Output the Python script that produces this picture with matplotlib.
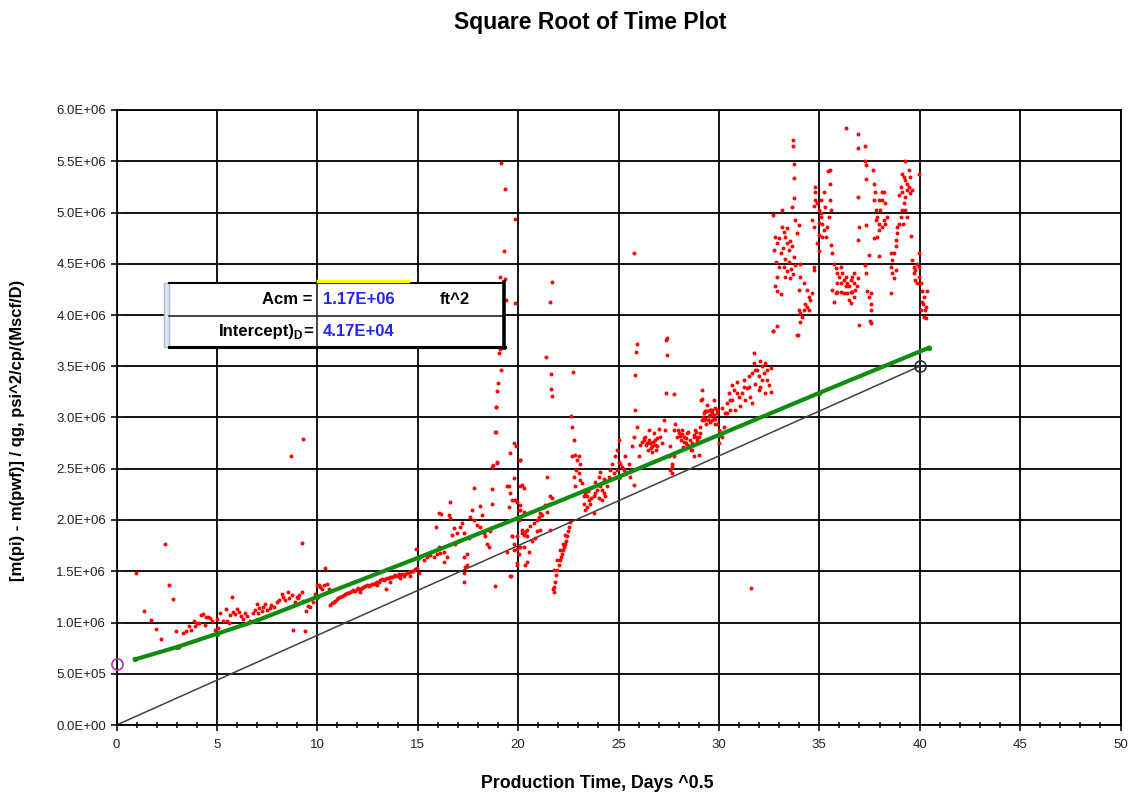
import matplotlib
matplotlib.use("Agg")
import matplotlib.pyplot as plt
import numpy as np
from matplotlib.patches import Rectangle
from matplotlib.lines import Line2D
from matplotlib.ticker import MultipleLocator, FuncFormatter

plt.rcParams['font.family'] = ['Liberation Sans', 'DejaVu Sans']

# measured points, y in units of 1e6 psi^2/cp/(Mscf/D)
early_pts = [
    (0.97, 1.48), (1.39, 1.11), (1.70, 1.02), (1.97, 0.94), (2.22, 0.84), (2.43, 1.77), (2.63, 1.37),
    (2.80, 1.23), (2.97, 0.92), (3.13, 0.76), (3.30, 0.90), (3.46, 0.92), (3.60, 0.97), (3.71, 0.93),
    (3.86, 1.01), (4.00, 1.00), (4.13, 1.00), (4.19, 1.07), (4.33, 1.08), (4.46, 1.05), (4.58, 1.05),
    (4.66, 1.04), (4.74, 1.01), (4.93, 0.93), (5.04, 0.95), (5.17, 1.09), (5.32, 1.01), (5.49, 1.01),
    (5.59, 1.00), (5.47, 1.13), (5.74, 1.25), (5.66, 1.07), (5.82, 1.10), (5.91, 1.08), (6.00, 1.13),
    (6.19, 1.06), (6.32, 1.03), (6.49, 1.06), (6.65, 1.01), (6.82, 1.09), (6.99, 1.18), (7.07, 1.09),
    (7.23, 1.11), (7.40, 1.18), (7.48, 1.12), (7.65, 1.14), (7.82, 1.15), (7.98, 1.20), (8.23, 1.28),
    (8.31, 1.25), (8.40, 1.22), (8.56, 1.30), (8.73, 1.27), (8.90, 1.20), (8.98, 1.25), (9.06, 1.24),
    (9.23, 1.30), (9.31, 1.21), (9.44, 1.11), (9.54, 1.16), (9.64, 1.15), (9.81, 1.20), (9.89, 1.28),
    (9.97, 1.37), (10.11, 1.35), (10.31, 1.37), (10.39, 1.53), (10.56, 1.33), (8.71, 2.62), (9.31, 2.79),
    (9.26, 1.78), (8.78, 0.93), (9.38, 0.92), (10.06, 1.37), (10.23, 1.33), (10.48, 1.38),
    (6.10, 1.10), (6.90, 1.12), (7.30, 1.15), (7.70, 1.17), (8.10, 1.22), (8.60, 1.24), (9.10, 1.27),
    (5.00, 1.03), (4.40, 0.98), (3.90, 0.97), (6.40, 1.09), (7.10, 1.14),
]

band_pts = [
    (10.64, 1.17), (10.81, 1.20), (10.98, 1.23), (11.14, 1.25), (11.31, 1.27), (11.47, 1.29), (11.64, 1.30),
    (11.80, 1.32), (11.97, 1.33), (12.14, 1.33), (12.30, 1.35), (12.47, 1.37), (12.63, 1.37), (12.80, 1.38),
    (12.97, 1.40), (13.13, 1.41), (13.30, 1.41), (13.47, 1.43), (13.63, 1.44), (13.80, 1.45), (13.96, 1.45),
    (14.13, 1.46), (14.30, 1.45), (14.46, 1.48), (14.63, 1.49), (14.79, 1.50), (14.96, 1.53), (15.04, 1.48),
    (14.93, 1.72), (12.14, 1.30), (12.97, 1.37), (13.63, 1.40), (14.13, 1.43), (14.63, 1.45), (13.43, 1.33),
    (10.72, 1.19), (10.90, 1.21), (11.05, 1.24), (11.22, 1.26), (11.40, 1.28), (11.55, 1.29), (11.72, 1.31),
    (11.88, 1.31), (12.05, 1.34), (12.22, 1.34), (12.38, 1.36), (12.55, 1.36), (12.72, 1.38), (12.88, 1.39),
    (13.05, 1.40), (13.22, 1.42), (13.38, 1.42), (13.55, 1.43), (13.72, 1.44), (13.88, 1.46), (14.05, 1.47),
    (14.22, 1.47), (14.38, 1.47), (14.55, 1.49), (14.72, 1.50), (14.88, 1.52),
]

mid_pts = [
    (15.12, 1.64), (15.29, 1.61), (15.46, 1.64), (15.62, 1.66), (15.79, 1.64), (15.96, 1.67), (16.12, 1.68),
    (16.29, 1.59), (16.45, 1.64), (16.29, 1.69), (16.04, 1.74), (15.92, 1.93), (16.04, 2.07), (16.16, 2.06),
    (16.62, 2.18), (16.54, 2.05), (16.62, 2.02), (16.79, 1.92), (16.95, 1.87), (16.70, 1.85), (17.12, 1.93),
    (17.04, 1.80), (16.87, 1.77), (17.29, 1.87), (17.20, 1.97), (17.29, 1.64), (17.45, 1.67), (17.45, 1.56),
    (17.29, 1.48), (17.37, 1.54), (17.29, 1.40), (17.53, 1.82), (17.70, 2.10), (17.61, 2.03), (17.78, 2.31),
    (17.78, 2.00), (17.95, 1.95), (18.11, 1.93), (18.20, 2.05), (18.11, 2.14), (18.28, 1.87), (18.36, 1.84),
    (18.45, 1.77), (18.53, 1.74), (18.61, 1.89), (18.70, 2.16), (18.70, 2.30), (18.95, 2.56), (18.70, 2.52),
    (18.89, 2.86), (18.89, 3.10), (18.86, 1.36), (19.61, 2.65), (19.81, 2.75), (19.91, 2.72), (20.07, 2.59),
    (19.78, 2.41), (19.53, 2.33), (19.61, 2.26), (19.70, 2.20), (19.53, 2.13), (19.94, 2.18), (20.07, 2.15),
    (20.02, 2.10), (19.70, 1.84), (19.45, 1.69), (19.65, 1.45), (19.94, 1.58), (20.02, 1.67), (20.18, 1.87),
    (20.27, 2.31), (20.18, 2.34), (20.35, 1.88),
    (19.15, 5.48), (19.33, 5.23), (19.83, 4.94), (19.30, 4.62), (19.08, 4.37), (19.33, 4.35), (19.86, 4.12),
    (19.41, 4.15), (19.03, 3.63), (19.11, 3.67), (19.16, 3.46), (18.98, 3.34), (18.95, 3.26), (18.90, 3.10),
    (18.86, 2.86), (18.95, 2.57), (18.75, 2.54), (19.61, 1.45),
    (19.44, 2.33), (20.11, 2.33), (20.11, 2.59), (20.27, 2.08), (20.11, 2.10), (20.03, 2.00), (20.19, 1.90),
    (19.94, 1.84), (19.78, 1.77), (20.27, 1.85), (20.44, 1.90), (20.61, 1.94), (20.78, 1.97), (20.94, 2.00),
    (21.02, 2.03), (21.10, 2.07), (21.19, 2.05), (21.27, 2.13), (21.35, 2.15), (21.44, 2.08), (21.52, 2.16),
    (21.60, 2.23), (21.44, 2.42), (21.69, 2.21), (20.44, 1.84), (20.69, 1.80), (20.86, 1.82), (20.94, 1.89),
    (20.27, 1.74), (20.52, 1.69), (20.44, 1.59), (20.36, 1.56), (19.94, 1.56), (19.94, 1.72), (19.78, 1.71),
    (19.69, 1.84), (20.11, 1.74), (21.10, 1.90), (21.60, 1.90), (19.86, 2.20),
]

dip_pts = [
    (21.70, 4.32), (21.57, 4.13), (21.37, 3.59), (21.65, 3.42), (21.63, 3.28), (21.68, 3.21), (22.75, 3.44),
    (22.63, 3.01), (22.70, 2.91), (22.77, 2.78),
    (21.77, 1.30), (21.80, 1.35), (21.85, 1.40), (21.90, 1.46), (21.93, 1.51), (22.02, 1.56), (22.10, 1.61),
    (22.15, 1.64), (22.18, 1.67), (22.24, 1.71), (22.27, 1.74), (22.35, 1.77), (22.40, 1.80), (22.44, 1.84),
    (22.49, 1.89), (22.52, 1.93), (22.57, 1.98), (21.80, 1.51), (21.93, 1.61), (22.07, 1.71), (22.24, 1.77),
    (22.35, 1.85), (21.74, 1.33),
]

late_pts = [
    (22.68, 2.62), (22.85, 2.63), (22.93, 2.59), (23.01, 2.62), (23.09, 2.55), (22.89, 2.49), (23.01, 2.46),
    (22.79, 2.42), (23.09, 2.39), (23.18, 2.36), (22.85, 2.33), (23.26, 2.29), (23.34, 2.26), (23.43, 2.23),
    (23.51, 2.20), (23.26, 2.16), (23.60, 2.16), (23.34, 2.10), (23.43, 2.13), (23.76, 2.23), (23.93, 2.29),
    (24.09, 2.33), (24.01, 2.42), (24.09, 2.47), (24.26, 2.26), (24.18, 2.20), (24.34, 2.23), (24.43, 2.33),
    (24.51, 2.42), (24.60, 2.49), (24.68, 2.55), (24.76, 2.46), (24.85, 2.62), (24.93, 2.68), (25.01, 2.78),
    (25.09, 2.55), (25.17, 2.52), (25.26, 2.49), (25.34, 2.62), (25.39, 2.46), (25.51, 2.55), (25.59, 2.42),
    (25.76, 2.34), (24.93, 2.49), (25.01, 2.57), (23.76, 2.07), (23.60, 2.31), (23.85, 2.37), (24.26, 2.40),
    (23.29, 2.23), (23.46, 2.28), (23.62, 2.21), (23.84, 2.26), (24.03, 2.21), (24.18, 2.29),
    (25.92, 3.72), (25.89, 3.64), (25.84, 3.41), (25.84, 3.07), (25.77, 4.60),
    (27.42, 3.78), (27.42, 3.61), (27.38, 3.76), (27.38, 3.24), (27.75, 3.23), (29.16, 3.27), (29.13, 3.17),
    (25.67, 2.72), (25.76, 2.81), (25.92, 2.91), (26.01, 2.62), (26.09, 2.73), (26.17, 2.76), (26.26, 2.78),
    (26.34, 2.81), (26.42, 2.75), (26.50, 2.88), (26.59, 2.75), (26.67, 2.72), (26.75, 2.85), (26.83, 2.78),
    (26.92, 2.72), (27.00, 2.89), (27.08, 2.81), (27.17, 2.75), (27.25, 2.98), (27.33, 2.88), (27.50, 2.62),
    (27.58, 2.72), (27.67, 2.52), (27.75, 2.88), (27.83, 2.94), (27.92, 2.81), (28.00, 2.85), (28.09, 2.78),
    (28.17, 2.88), (28.25, 2.81), (28.34, 2.75), (28.42, 2.85), (28.50, 2.72), (28.59, 2.68), (28.67, 2.75),
    (28.76, 2.81), (28.84, 2.86), (28.92, 2.78), (29.00, 2.63), (29.08, 2.85), (29.16, 2.98), (29.25, 3.04),
    (29.33, 2.99), (29.41, 3.06), (29.49, 3.01), (29.58, 3.07), (29.66, 2.98), (29.74, 3.02), (29.83, 2.94),
    (29.91, 3.07), (27.67, 2.55), (27.58, 2.49), (27.67, 2.46), (27.75, 2.62),
    (26.29, 2.80), (26.39, 2.73), (26.50, 2.78), (26.62, 2.70), (26.72, 2.76), (26.82, 2.73), (26.92, 2.80),
    (26.46, 2.68), (26.69, 2.66), (26.88, 2.68),
    (27.94, 2.88), (28.04, 2.82), (28.17, 2.84), (28.27, 2.76), (28.37, 2.80), (28.47, 2.86), (28.57, 2.78),
    (28.67, 2.73), (28.77, 2.83), (28.41, 2.73), (28.21, 2.71),
    (29.21, 3.00), (29.31, 3.06), (29.44, 2.98), (29.54, 3.02), (29.67, 3.07), (29.77, 2.99), (29.91, 3.04),
    (29.38, 2.94), (29.82, 3.09),
]

ramp_pts = [
    (28.66, 2.68), (28.75, 2.62), (28.83, 2.88), (28.91, 2.75), (29.00, 2.81), (29.16, 3.18), (29.33, 3.06),
    (29.25, 2.98), (29.41, 3.12), (29.49, 3.01), (29.58, 2.96), (29.66, 3.04), (29.74, 3.17), (29.83, 2.99),
    (29.91, 2.94), (29.99, 2.88), (30.08, 2.85), (30.16, 2.81), (29.99, 2.75), (30.16, 3.09), (30.24, 2.91),
    (30.32, 3.04), (30.41, 3.14), (30.49, 3.24), (30.57, 3.07), (30.66, 3.17), (30.74, 3.27), (30.82, 3.07),
    (30.91, 3.35), (30.99, 3.20), (31.07, 3.11), (31.16, 3.24), (31.24, 3.30), (31.32, 3.17), (31.41, 3.29),
    (31.49, 3.40), (31.57, 3.20), (31.66, 3.43), (31.74, 3.63), (31.74, 3.53), (31.82, 3.33), (31.90, 3.46),
    (31.99, 3.27), (32.07, 3.55), (32.15, 3.37), (32.24, 3.43), (32.32, 3.24), (32.40, 3.46), (32.49, 3.32),
    (32.57, 3.48), (32.60, 3.25), (31.99, 3.40), (31.66, 3.14), (30.66, 3.32), (30.41, 3.04),
    (28.91, 2.81), (29.08, 2.91), (29.58, 3.07), (30.57, 3.17), (30.91, 3.24), (31.24, 3.37), (31.49, 3.30),
    (31.82, 3.46), (32.15, 3.50), (32.40, 3.37), (32.32, 3.53), (32.07, 3.30),
    (32.70, 3.84), (33.90, 3.80), (31.60, 1.34),
]

high_pts = [
    (33.68, 5.71), (33.68, 5.65), (33.76, 5.47), (33.73, 5.34), (33.73, 5.14), (33.66, 5.05), (33.12, 5.02),
    (32.68, 4.98), (32.77, 4.76), (32.87, 4.70), (32.74, 4.63), (32.82, 4.52), (32.90, 4.37), (32.77, 4.28),
    (32.90, 4.23), (33.07, 4.20), (33.15, 4.86), (33.23, 4.81), (33.31, 4.76), (33.40, 4.70), (33.48, 4.63),
    (33.56, 4.72), (33.64, 4.67), (33.73, 4.57), (33.81, 4.93), (33.89, 4.80), (33.98, 4.88), (33.07, 4.60),
    (32.99, 4.47), (33.23, 4.47), (33.31, 4.37), (33.40, 4.43), (33.56, 4.36), (33.81, 4.49), (34.03, 4.37),
    (33.98, 4.24), (34.06, 4.50), (34.23, 4.31), (34.39, 4.24), (34.48, 4.18), (34.31, 4.11), (34.23, 4.05),
    (34.14, 3.98), (34.06, 3.93), (33.98, 4.05), (34.56, 4.15), (34.64, 4.21), (34.48, 4.05), (34.39, 4.08),
    (33.93, 3.80), (32.87, 3.89), (32.70, 3.84), (34.06, 4.02),
    (33.30, 4.55), (33.50, 4.52), (33.60, 4.45), (33.20, 4.65), (33.00, 4.75), (33.40, 4.85), (33.70, 4.40),
    (34.81, 5.25), (34.81, 5.20), (34.81, 5.12), (34.89, 5.09), (34.97, 5.02), (35.06, 4.96), (35.14, 4.89),
    (35.22, 4.83), (35.31, 4.76), (35.39, 4.86), (35.47, 4.96), (35.56, 5.02), (35.52, 5.12), (35.42, 5.40),
    (35.52, 5.41), (35.51, 5.28), (35.22, 5.20), (35.06, 5.12), (34.73, 5.06), (34.64, 4.93), (34.73, 4.86),
    (34.97, 4.78), (35.14, 4.76), (34.89, 4.70), (34.97, 4.62), (35.59, 4.68), (35.64, 4.60), (34.73, 4.47),
    (34.73, 4.44), (35.00, 4.90), (35.30, 5.05), (35.10, 5.00),
    (35.72, 4.50), (35.81, 4.46), (35.89, 4.41), (35.97, 4.37), (36.06, 4.47), (36.14, 4.41), (35.89, 4.31),
    (36.06, 4.31), (36.22, 4.34), (36.31, 4.28), (36.39, 4.31), (36.47, 4.28), (36.56, 4.34), (36.64, 4.37),
    (36.72, 4.31), (36.80, 4.24), (36.89, 4.28), (36.56, 4.22), (36.39, 4.21), (36.47, 4.15), (36.22, 4.21),
    (36.06, 4.22), (35.81, 4.21), (35.72, 4.13), (35.89, 4.22), (36.72, 4.41), (36.64, 4.22), (35.64, 4.24),
    (36.91, 4.36), (36.75, 4.18), (36.56, 4.12), (36.31, 4.37),
    (36.34, 5.82), (36.95, 5.77), (36.95, 5.63), (37.29, 5.65), (37.29, 5.50), (37.32, 5.46), (37.32, 5.33),
    (37.67, 5.41), (36.91, 5.15), (37.71, 5.28), (37.76, 5.20), (37.71, 5.12), (37.80, 5.02), (37.88, 4.96),
    (37.96, 4.89), (38.04, 5.02), (38.10, 5.12), (38.20, 5.20), (38.28, 5.09), (38.37, 4.96), (38.28, 4.89),
    (38.13, 4.86), (38.20, 4.93), (37.80, 4.93), (37.96, 4.83), (38.13, 5.20), (37.96, 5.12), (37.88, 4.76),
    (36.97, 4.86), (37.35, 4.88), (37.71, 4.75), (37.98, 4.58), (36.93, 4.73),
    (37.30, 4.49), (37.35, 4.41), (37.47, 4.59), (37.39, 4.23), (37.47, 4.18), (37.55, 4.11), (37.59, 4.05),
    (37.52, 3.94), (37.59, 3.92), (36.97, 3.90), (37.59, 4.21), (38.55, 4.21),
    (38.88, 4.80), (38.84, 4.73), (38.80, 4.67), (38.71, 4.60), (38.63, 4.54), (38.55, 4.47), (38.63, 4.41),
    (38.71, 4.36), (38.80, 4.44), (38.55, 4.60), (38.88, 4.86), (38.96, 4.89), (39.05, 4.96), (39.13, 5.02),
    (39.21, 5.09), (39.29, 5.15), (39.38, 5.22), (39.13, 5.38), (39.21, 5.35), (39.29, 5.32), (39.38, 5.28),
    (39.46, 5.41), (39.54, 5.35), (39.46, 5.25), (39.51, 5.19), (39.05, 5.25), (39.13, 5.20), (38.96, 5.17),
    (39.26, 5.50), (39.62, 5.22), (39.29, 5.02), (39.18, 4.89), (39.38, 4.96), (39.59, 4.77), (39.99, 5.38),
    (39.63, 4.54), (39.71, 4.47), (39.79, 4.44), (39.88, 4.50), (39.96, 4.60), (39.71, 4.41), (39.79, 4.34),
    (39.88, 4.31), (39.96, 4.47), (40.05, 4.31), (40.13, 4.23), (40.21, 4.18), (40.18, 4.11), (40.29, 4.08),
    (40.09, 4.13), (40.24, 4.05), (40.32, 3.97), (40.37, 4.23), (40.21, 3.98), (40.05, 4.05), (39.96, 4.37),
]

# straight-line fit through the late data
fit_x = [0.92, 3.0, 5.0, 7.0, 10.0, 15.0, 20.0, 25.0, 30.0, 35.0, 40.45]
fit_y = [0.64, 0.76, 0.89, 1.02, 1.25, 1.63, 2.02, 2.42, 2.83, 3.24, 3.68]

# reference line and its end markers
ref_x = [0.0, 40.0]
ref_y = [0.0, 3.5]
start_pt = (0.0, 0.6)

acm_text = "1.17E+06"
intercept_text = "4.17E+04"

W, H = 1131, 792
fig = plt.figure(figsize=(W / 100, H / 100), dpi=100)
ax = fig.add_axes([116.5 / W, 1 - 725 / H, (1120.5 - 116.5) / W, (725 - 110) / H])

all_pts = np.array(early_pts + band_pts + mid_pts + dip_pts + late_pts + ramp_pts + high_pts)
ax.scatter(all_pts[:, 0], all_pts[:, 1] * 1e6, s=8, c='#ff0000', linewidths=0, zorder=3)

ax.plot(fit_x, np.array(fit_y) * 1e6, color='#108c10', lw=3, marker='o', ms=2.8, zorder=4)
ax.plot(ref_x, np.array(ref_y) * 1e6, color='#404040', lw=1.1, zorder=2)
ax.plot(start_pt[0], start_pt[1] * 1e6, 'o', mfc='none', mec='#b030b0', ms=8, mew=1.2, clip_on=False, zorder=5)
ax.plot(ref_x[1], ref_y[1] * 1e6, 'o', mfc='none', mec='#303030', ms=8, mew=1.2, zorder=5)

ax.set_xlim(0, 50)
ax.set_ylim(0, 6e6)
ax.xaxis.set_major_locator(MultipleLocator(5))
ax.xaxis.set_minor_locator(MultipleLocator(1))
ax.yaxis.set_major_locator(MultipleLocator(5e5))
ax.yaxis.set_major_formatter(FuncFormatter(lambda v, p: '%.1E' % v))
ax.grid(True, which='major', color='black', lw=1.3)
ax.set_axisbelow(True)
for s in ax.spines.values():
    s.set_color('black')
    s.set_linewidth(1.3)
ax.tick_params(which='major', direction='inout', length=8, width=1.3, labelsize=9.5, colors='#222222')
ax.tick_params(which='minor', direction='inout', length=5, width=1.1)
ax.tick_params(axis='x', pad=6)

fig.text(590 / W, 1 - 22 / H, "Square Root of Time Plot", ha='center', va='center',
         fontsize=16.5, fontweight='bold')
fig.text(597 / W, 1 - 783 / H, "Production Time, Days ^0.5", ha='center', va='center',
         fontsize=12.8, fontweight='bold')
fig.text(18 / W, 1 - 430 / H, "[m(pi) - m(pwf)] / qg, psi^2/cp/(Mscf/D)", ha='center', va='center',
         rotation=90, fontsize=12, fontweight='bold')


# result table drawn in figure pixels
def fx(px):
    return px / W


def fy(py):
    return 1 - py / H


tr = fig.transFigure
fig.add_artist(Rectangle((fx(166), fy(347)), fx(504) - fx(166), fy(283) - fy(347),
                         transform=tr, facecolor='white', edgecolor='none', zorder=10))
fig.add_artist(Rectangle((fx(164), fy(347)), fx(169) - fx(164), fy(283) - fy(347),
                         transform=tr, facecolor='#dfe7f2', edgecolor='#a9bbd3', lw=1, zorder=11))
fig.add_artist(Line2D([fx(169), fx(504)], [fy(283), fy(283)], transform=tr, color='black', lw=1.5, zorder=11))
fig.add_artist(Line2D([fx(169), fx(504)], [fy(316), fy(316)], transform=tr, color='#222222', lw=1.2, zorder=11))
fig.add_artist(Line2D([fx(169), fx(505)], [fy(347), fy(347)], transform=tr, color='black', lw=2.2, zorder=11))
fig.add_artist(Line2D([fx(504), fx(504)], [fy(282), fy(348)], transform=tr, color='black', lw=2.6, zorder=11))
fig.add_artist(Line2D([fx(317), fx(317)], [fy(283), fy(347)], transform=tr, color='#222222', lw=1.2, zorder=11))
fig.add_artist(Line2D([fx(318), fx(408)], [fy(281), fy(281)], transform=tr, color='#ffff00', lw=2.5, zorder=12))

blue = '#2424f0'
fig.text(fx(312), fy(300), "Acm =", ha='right', va='center', fontsize=12, fontweight='bold', zorder=12)
fig.text(fx(323), fy(300), acm_text, ha='left', va='center', fontsize=12, fontweight='bold', color=blue, zorder=12)
fig.text(fx(440), fy(300), "ft^2", ha='left', va='center', fontsize=12, fontweight='bold', zorder=12)
fig.text(fx(313), fy(332), "=", ha='right', va='center', fontsize=12, fontweight='bold', zorder=12)
fig.text(fx(302), fy(336), "D", ha='right', va='center', fontsize=8.5, fontweight='bold', zorder=12)
fig.text(fx(295), fy(332), "Intercept)", ha='right', va='center', fontsize=12, fontweight='bold', zorder=12)
fig.text(fx(323), fy(332), intercept_text, ha='left', va='center', fontsize=12, fontweight='bold', color=blue, zorder=12)

fig.savefig("out.png", dpi=100)
